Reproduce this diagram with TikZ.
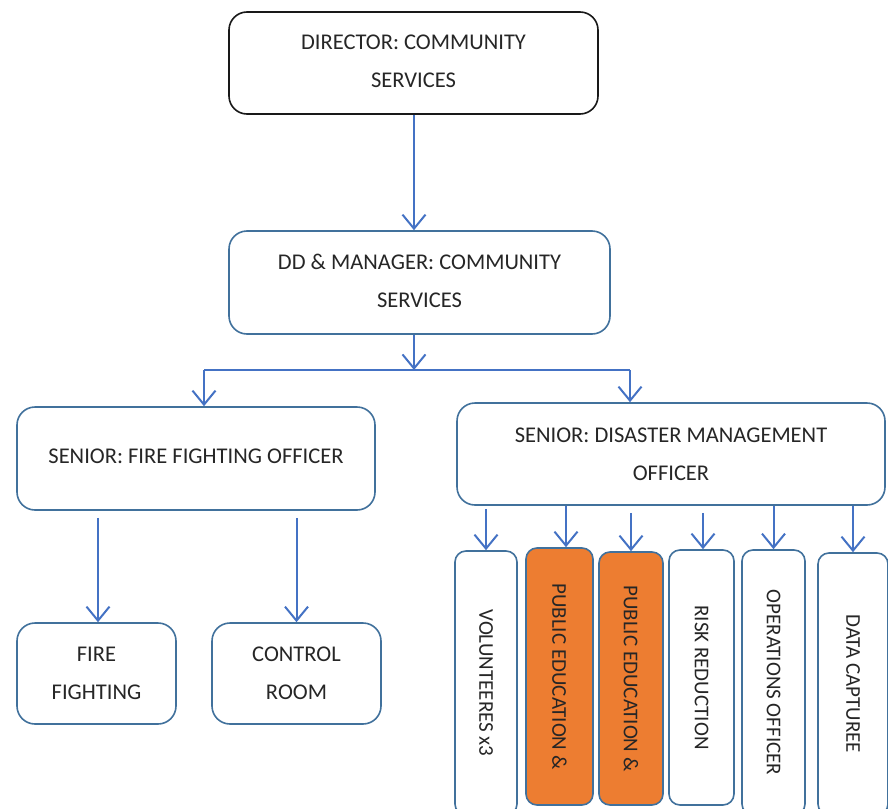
\documentclass[tikz,border=0pt]{standalone}
\usepackage{fontspec}
\setmainfont{Carlito}
\usetikzlibrary{arrows.meta}
\definecolor{boxblue}{HTML}{41719C}
\definecolor{lineblue}{HTML}{4472C4}
\definecolor{txt}{HTML}{262626}
\definecolor{orangefill}{HTML}{ED7D31}
\tikzset{
  box/.style={draw=boxblue, line width=1.6pt, rounded corners=18pt, fill=white,
    text=txt, font=\fontsize{22.5}{38}\selectfont, align=center, inner sep=0pt},
  slim/.style={box, rounded corners=11pt, font=\fontsize{21}{25}\selectfont},
  conn/.style={draw=lineblue, line width=2pt, -{Straight Barb[length=14pt,width=23pt]}},
  plain/.style={draw=lineblue, line width=2pt}
}
\begin{document}
\begin{tikzpicture}[x=1pt,y=-1pt]
\useasboundingbox (0,0) rectangle (888,808);
\clip (0,0) rectangle (888,808);

% top levels
\node[box, draw=black!90, minimum width=369pt, minimum height=102pt] (dir) at (413.5,63)
  {\raisebox{3pt}{DIRECTOR: COMMUNITY}\\\raisebox{3pt}{SERVICES}};
\node[box, minimum width=381pt, minimum height=103pt] (dd) at (419.5,282.5)
  {\raisebox{3pt}{DD \& MANAGER: COMMUNITY}\\\raisebox{3pt}{SERVICES}};

% senior officers
\node[box, minimum width=358pt, minimum height=103pt] (sf) at (196,458.5)
  {\raisebox{5pt}{SENIOR: FIRE FIGHTING OFFICER}};
\node[box, minimum width=428pt, minimum height=102pt] (sd) at (671,454)
  {SENIOR: DISASTER MANAGEMENT\\OFFICER};

% fire section
\node[box, minimum width=159pt, minimum height=101pt] (ff) at (96.5,673.5)
  {FIRE\\FIGHTING};
\node[box, minimum width=169pt, minimum height=101pt] (cr) at (296.5,673.5)
  {CONTROL\\ROOM};

% disaster management section
\node[slim, minimum width=62pt, minimum height=264pt] (vol) at (486,683)
  {\rotatebox{-90}{VOLUNTEERES x3}};
\node[slim, fill=orangefill, minimum width=67pt, minimum height=257pt] (pe1) at (559.5,676.5)
  {\rotatebox{-90}{PUBLIC EDUCATION \&}};
\node[slim, fill=orangefill, minimum width=64pt, minimum height=253pt] (pe2) at (631,678.5)
  {\rotatebox{-90}{PUBLIC EDUCATION \&}};
\node[slim, minimum width=65pt, minimum height=255pt] (risk) at (701.5,677.5)
  {\rotatebox{-90}{RISK REDUCTION}};
\node[slim, minimum width=63pt, minimum height=265pt] (ops) at (773.5,682.5)
  {\rotatebox{-90}{OPERATIONS OFFICER}};
\node[slim, minimum width=70pt, minimum height=262pt] (data) at (853,684)
  {\rotatebox{-90}{DATA CAPTUREE}};

% connectors
\coordinate (split) at (414,370);
\coordinate (b1) at (204,370);
\coordinate (b2) at (630,370);
\draw[conn] (dir.south -| split) -- (dd.north -| split);
\draw[conn] (dd.south -| split) -- (split);
\draw[plain] (b1) -- (b2);
\draw[conn] (b1) -- (b1 |- sf.north);
\draw[conn] (b2) -- (b2 |- sd.north);

\draw[conn] ([xshift=1.5pt]ff.north |- sf.south) ++(0,7) -- ([xshift=1.5pt]ff.north);
\draw[conn] (cr.north |- sf.south) ++(0,7) -- (cr.north);

\draw[conn] (vol.north |- sd.south) ++(0,3) -- (vol.north);
\draw[conn] ([xshift=6.5pt]pe1.north |- sd.south) -- ([xshift=6.5pt]pe1.north);
\draw[conn] (pe2.north |- sd.south) ++(0,7) -- (pe2.north);
\draw[conn] ([xshift=1.5pt]risk.north |- sd.south) ++(0,7) -- ([xshift=1.5pt]risk.north);
\draw[conn] (ops.north |- sd.south) -- (ops.north);
\draw[conn] (data.north |- sd.south) -- (data.north);
\end{tikzpicture}
\end{document}
